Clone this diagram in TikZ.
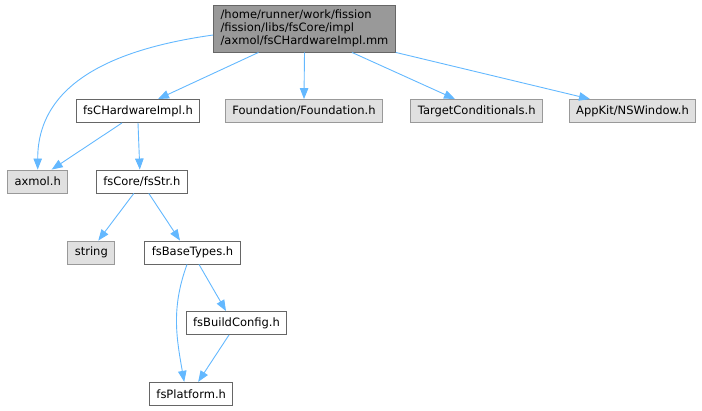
\documentclass[tikz,border=0pt]{standalone}
\usepackage{fontspec}
\setmainfont{DejaVu Sans}
\usepackage{xcolor}
\usepackage{tikz}
\usetikzlibrary{arrows.meta}

\definecolor{edgeblue}{HTML}{63B8FF}
\definecolor{extfill}{HTML}{E0E0E0}
\definecolor{extdraw}{HTML}{999999}
\definecolor{maindraw}{HTML}{666666}

\tikzset{
  filebox/.style={rectangle,draw=maindraw,fill=white,line width=0.9pt,
    inner xsep=7pt,inner ysep=0pt,minimum height=23pt,
    font=\fontsize{11.5}{12.8}\selectfont},
  extbox/.style={filebox,draw=extdraw,fill=extfill},
  mainbox/.style={filebox,fill=extdraw,minimum height=47pt,align=left}
}

\begin{document}
\begin{tikzpicture}[x=1pt,y=-1pt]
			\useasboundingbox (0,0) rectangle (702,411);

			% files
			\node[mainbox] (main) at (304.5,28.5) {/home/runner/work/fission\\/fission/libs/fsCore/impl\\/axmol/fsCHardwareImpl.mm};
			\node[filebox] (hwimpl)     at (138,111)   {fsCHardwareImpl.h};
			\node[extbox]  (foundation) at (304,111)   {Foundation/Foundation.h};
			\node[extbox]  (target)     at (476.7,111) {TargetConditionals.h};
			\node[extbox]  (nswindow)   at (632.5,111) {AppKit/NSWindow.h};
			\node[extbox]  (axmol)      at (37.7,181.5)  {axmol.h};
			\node[filebox] (fsstr)      at (141.8,181.5) {fsCore/fsStr.h};
			\node[extbox]  (string)     at (91.3,252.5)  {string};
			\node[filebox] (basetypes)  at (192.5,252.5) {fsBaseTypes.h};
			\node[filebox] (buildcfg)   at (236.5,323)   {fsBuildConfig.h};
			\node[filebox] (platform)   at (191.2,393.8) {fsPlatform.h};

			% includes
			\begin{scope}[>={Triangle[length=11pt,width=8.5pt]},
			              every edge/.style={draw=edgeblue,line width=0.9pt}]
			    \path [->] ([yshift=-6.5pt]main.west) edge[out=188,in=90,looseness=1.05] (axmol.north);
			    \path [->] ([xshift=-46pt]main.south) edge ([xshift=20pt]hwimpl.north);
			    \path [->] (main.south) edge (foundation.north);
			    \path [->] ([xshift=47.5pt]main.south) edge ([xshift=-21.7pt]target.north);
			    \path [->] (main.south east) edge ([xshift=-42.5pt]nswindow.north);
			    \path [->] ([xshift=-16pt]hwimpl.south) edge ([xshift=14pt]axmol.north);
			    \path [->] (hwimpl.south) edge ([xshift=-2pt]fsstr.north);
			    \path [->] ([xshift=-8pt]fsstr.south) edge ([xshift=7pt]string.north);
			    \path [->] ([xshift=7pt]fsstr.south) edge ([xshift=-12.5pt]basetypes.north);
			    \path [->] ([xshift=-5.5pt]basetypes.south) edge[out=-110,in=100] ([xshift=-7pt]platform.north);
			    \path [->] ([xshift=6.5pt]basetypes.south) edge ([xshift=-10.5pt]buildcfg.north);
			    \path [->] ([xshift=-7.5pt]buildcfg.south) edge ([xshift=7pt]platform.north);
			\end{scope}
\end{tikzpicture}
\end{document}
